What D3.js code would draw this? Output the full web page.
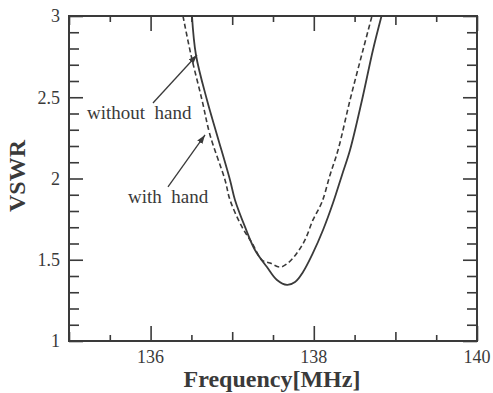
<!DOCTYPE html>
<html>
<head>
<meta charset="utf-8">
<script src="https://cdn.jsdelivr.net/npm/d3@7"></script>
<style>
  body { margin: 0; background: #fff; }
  text { font-family: "Liberation Serif", "Times New Roman", serif; fill: #3a3a3a; }
</style>
</head>
<body>
<div class="canvas"></div>
<script>
// solid curve - without hand
const freqWithout = [136.507, 136.556, 136.691, 136.814, 136.973, 137.034, 137.157, 137.279, 137.426, 137.549, 137.672, 137.770, 137.868, 137.990, 138.113, 138.235, 138.346, 138.444, 138.591, 138.725, 138.830];
const vswrWithout = [3.0, 2.76, 2.483, 2.268, 1.991, 1.868, 1.702, 1.560, 1.455, 1.375, 1.345, 1.363, 1.425, 1.542, 1.683, 1.849, 2.022, 2.175, 2.483, 2.791, 3.0];
// dashed curve - with hand
const freqWith = [136.397, 136.495, 136.630, 136.728, 136.912, 136.973, 137.120, 137.243, 137.365, 137.463, 137.586, 137.684, 137.794, 137.892, 137.990, 138.100, 138.199, 138.297, 138.444, 138.603, 138.713];
const vswrWith = [3.0, 2.76, 2.483, 2.268, 1.991, 1.868, 1.702, 1.603, 1.498, 1.480, 1.455, 1.480, 1.542, 1.622, 1.745, 1.855, 2.022, 2.175, 2.483, 2.791, 3.0];

const xTickLabels = [136, 138, 140];
const yTickLabels = [1, 1.5, 2, 2.5, 3];

// annotation text + arrow (start -> tip) in data units
const notes = [
  { text: "without  hand", tx: 135.22, ty: 2.366, x1: 136.029, y1: 2.465, x2: 136.569, y2: 2.76 },
  { text: "with  hand", tx: 135.723, ty: 1.849, x1: 136.213, y1: 1.948, x2: 136.667, y2: 2.268 }
];

const margin = { top: 16, right: 16, bottom: 52, left: 69 };
const width = 493, height = 393;
const graphWidth = width - margin.left - margin.right;
const graphHeight = height - margin.top - margin.bottom;
const ink = "#3a3a3a";

const svg = d3.select(".canvas").append("svg")
  .attr("width", width)
  .attr("height", height);

svg.append("defs").append("clipPath").attr("id", "clip")
  .append("rect").attr("width", graphWidth).attr("height", graphHeight);

const marker = svg.select("defs").append("marker")
  .attr("id", "arrow")
  .attr("viewBox", "0 0 10 10")
  .attr("refX", 10).attr("refY", 5)
  .attr("markerWidth", 9).attr("markerHeight", 9)
  .attr("markerUnits", "userSpaceOnUse")
  .attr("orient", "auto");
marker.append("path").attr("d", "M0,1.5 L10,5 L0,8.5 Z").attr("fill", ink);

const graph = svg.append("g")
  .attr("transform", `translate(${margin.left},${margin.top})`);

const x = d3.scaleLinear().domain([135, 140]).range([0, graphWidth]);
const y = d3.scaleLinear().domain([1, 3]).range([graphHeight, 0]);

// ticks (inward on all four sides, three lengths on x, two on y)
const xMajor = [136, 138, 140];
const xMid = [135, 137, 139];
const xMinor = d3.range(135.5, 140, 1);
const yMajor = d3.range(1, 3.01, 0.5);
const yMinor = d3.range(1.1, 3, 0.1).filter(v => Math.abs(v * 2 - Math.round(v * 2)) > 0.01);

const tickGroups = [[xMajor, 15], [xMid, 9], [xMinor, 6]];
tickGroups.forEach(([vals, len]) => {
  graph.append("g").attr("transform", `translate(0,${graphHeight})`)
    .call(d3.axisBottom(x).tickValues(vals).tickSize(-len).tickFormat(""));
  graph.append("g")
    .call(d3.axisTop(x).tickValues(vals).tickSize(-len).tickFormat(""));
});
[[yMajor, 14], [yMinor, 10]].forEach(([vals, len]) => {
  graph.append("g")
    .call(d3.axisLeft(y).tickValues(vals).tickSize(-len).tickFormat(""));
  graph.append("g").attr("transform", `translate(${graphWidth},0)`)
    .call(d3.axisRight(y).tickValues(vals).tickSize(-len).tickFormat(""));
});
graph.selectAll(".domain").remove();
graph.selectAll(".tick line").attr("stroke", ink).attr("stroke-width", 1.6);

// frame
graph.append("rect")
  .attr("width", graphWidth).attr("height", graphHeight)
  .attr("fill", "none").attr("stroke", ink).attr("stroke-width", 2);

// tick labels
graph.selectAll(".xlab").data(xTickLabels).enter().append("text")
  .attr("x", d => x(d)).attr("y", graphHeight + 22)
  .attr("text-anchor", "middle").attr("font-size", 18)
  .text(d => d);
graph.selectAll(".ylab").data(yTickLabels).enter().append("text")
  .attr("x", -9).attr("y", d => y(d)).attr("dy", "0.35em")
  .attr("text-anchor", "end").attr("font-size", 18)
  .text(d => d);

// axis titles
svg.append("text")
  .attr("x", margin.left + graphWidth / 2 - 1).attr("y", 387)
  .attr("text-anchor", "middle").attr("font-size", 24).attr("font-weight", "bold")
  .text("Frequency[MHz]");
svg.append("text")
  .attr("transform", "translate(25,176) rotate(-90)")
  .attr("text-anchor", "middle").attr("font-size", 24).attr("font-weight", "bold")
  .text("VSWR");

// curves
const line = d3.line()
  .x(d => x(d[0]))
  .y(d => y(d[1]))
  .curve(d3.curveCatmullRom);

const plot = graph.append("g").attr("clip-path", "url(#clip)");
plot.append("path")
  .datum(d3.zip(freqWithout, vswrWithout))
  .attr("fill", "none").attr("stroke", ink).attr("stroke-width", 1.8)
  .attr("d", line);
plot.append("path")
  .datum(d3.zip(freqWith, vswrWith))
  .attr("fill", "none").attr("stroke", ink).attr("stroke-width", 1.6)
  .attr("stroke-dasharray", "5,3")
  .attr("d", line);

// annotations
notes.forEach(n => {
  graph.append("text")
    .attr("x", x(n.tx)).attr("y", y(n.ty))
    .attr("font-size", 19).style("white-space", "pre")
    .text(n.text);
  graph.append("line")
    .attr("x1", x(n.x1)).attr("y1", y(n.y1))
    .attr("x2", x(n.x2)).attr("y2", y(n.y2))
    .attr("stroke", ink).attr("stroke-width", 1.3)
    .attr("marker-end", "url(#arrow)");
});
</script>
</body>
</html>
